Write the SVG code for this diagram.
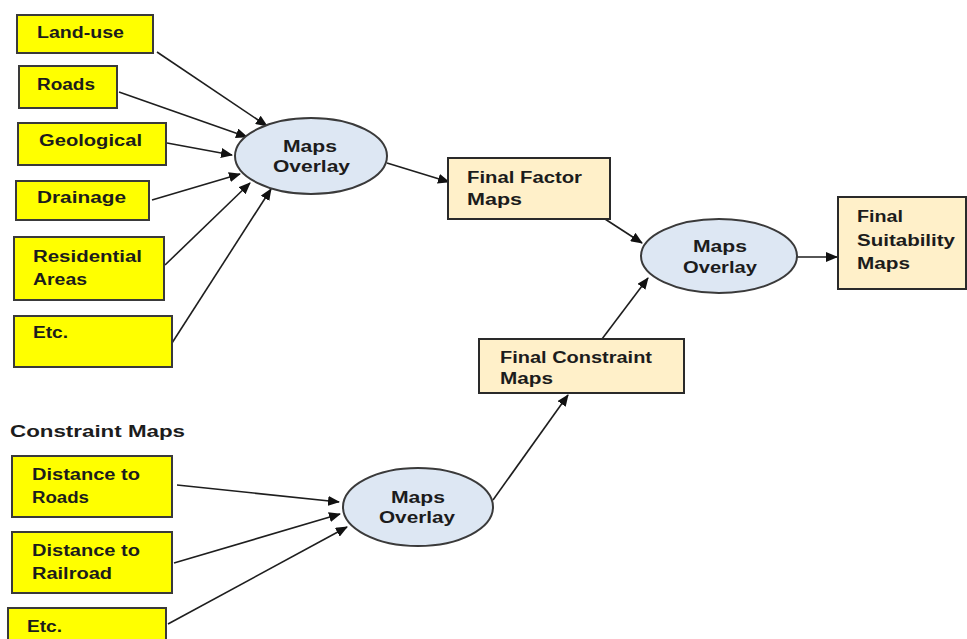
<svg xmlns="http://www.w3.org/2000/svg" width="967" height="639" viewBox="0 0 967 639">
<defs>
<marker id="ah" markerUnits="userSpaceOnUse" markerWidth="12" markerHeight="10" refX="11" refY="5" orient="auto">
<path d="M0,0 L12,5 L0,10 z" fill="#111"/>
</marker>
<style>
.y{fill:#ffff00;stroke:#3a3a3a;stroke-width:2}
.c{fill:#fff0c9;stroke:#2a2a2a;stroke-width:2}
.e{fill:#dde7f3;stroke:#3a3a3a;stroke-width:2}
.t{font-family:"Liberation Sans",Arial,sans-serif;font-weight:bold;font-size:16px;fill:#1c1c1c}
.l{stroke:#1e1e1e;stroke-width:1.6;fill:none;marker-end:url(#ah)}
</style>
</defs>
<rect width="967" height="639" fill="#ffffff"/>

<g id="connectors">
<line class="l" x1="157" y1="52" x2="267" y2="126"/>
<line class="l" x1="119" y1="92" x2="247" y2="137"/>
<line class="l" x1="167" y1="143" x2="232" y2="155"/>
<line class="l" x1="152" y1="200" x2="240" y2="174"/>
<line class="l" x1="165" y1="265" x2="250" y2="183"/>
<line class="l" x1="172" y1="343" x2="271" y2="189"/>
<line class="l" x1="387" y1="163" x2="449" y2="182"/>
<line class="l" x1="605" y1="219" x2="642" y2="243"/>
<line class="l" x1="797" y1="257" x2="837" y2="257"/>
<line class="l" x1="602" y1="339" x2="648" y2="278"/>
<line class="l" x1="493" y1="500" x2="568" y2="395"/>
<line class="l" x1="177" y1="485" x2="339" y2="502"/>
<line class="l" x1="174" y1="563" x2="340" y2="514"/>
<line class="l" x1="168" y1="624" x2="347" y2="527"/>
</g>

<g id="landuse"><rect class="y" x="17" y="15" width="136" height="38"/><text class="t" x="37" y="38" textLength="87" lengthAdjust="spacingAndGlyphs">Land-use</text></g>
<g id="roads"><rect class="y" x="19" y="66" width="98" height="42"/><text class="t" x="37" y="90" textLength="58" lengthAdjust="spacingAndGlyphs">Roads</text></g>
<g id="geological"><rect class="y" x="18" y="123" width="148" height="42"/><text class="t" x="39" y="146" textLength="103" lengthAdjust="spacingAndGlyphs">Geological</text></g>
<g id="drainage"><rect class="y" x="16" y="181" width="133" height="39"/><text class="t" x="37" y="203" textLength="89" lengthAdjust="spacingAndGlyphs">Drainage</text></g>
<g id="residential"><rect class="y" x="14" y="237" width="150" height="63"/><text class="t" x="33" y="262" textLength="109" lengthAdjust="spacingAndGlyphs">Residential</text><text class="t" x="33" y="285" textLength="54" lengthAdjust="spacingAndGlyphs">Areas</text></g>
<g id="etc1"><rect class="y" x="14" y="316" width="158" height="51"/><text class="t" x="33" y="338" textLength="35" lengthAdjust="spacingAndGlyphs">Etc.</text></g>

<g id="overlay1"><ellipse class="e" cx="311" cy="156" rx="76" ry="38"/><text class="t" x="283" y="152" textLength="54" lengthAdjust="spacingAndGlyphs">Maps</text><text class="t" x="273" y="172" textLength="77" lengthAdjust="spacingAndGlyphs">Overlay</text></g>

<g id="finalfactor"><rect class="c" x="448" y="158" width="162" height="61"/><text class="t" x="467" y="183" textLength="115" lengthAdjust="spacingAndGlyphs">Final Factor</text><text class="t" x="467" y="205" textLength="55" lengthAdjust="spacingAndGlyphs">Maps</text></g>

<g id="overlay2"><ellipse class="e" cx="719" cy="256" rx="78" ry="37"/><text class="t" x="693" y="252" textLength="54" lengthAdjust="spacingAndGlyphs">Maps</text><text class="t" x="683" y="273" textLength="74" lengthAdjust="spacingAndGlyphs">Overlay</text></g>

<g id="finalsuitability"><rect class="c" x="838" y="197" width="128" height="92"/><text class="t" x="857" y="222" textLength="46" lengthAdjust="spacingAndGlyphs">Final</text><text class="t" x="857" y="246" textLength="98" lengthAdjust="spacingAndGlyphs">Suitability</text><text class="t" x="857" y="269" textLength="53" lengthAdjust="spacingAndGlyphs">Maps</text></g>

<g id="finalconstraint"><rect class="c" x="479" y="339" width="205" height="54"/><text class="t" x="500" y="363" textLength="152" lengthAdjust="spacingAndGlyphs">Final Constraint</text><text class="t" x="500" y="384" textLength="53" lengthAdjust="spacingAndGlyphs">Maps</text></g>

<g id="constraintlabel"><text class="t" x="10" y="437" textLength="175" lengthAdjust="spacingAndGlyphs">Constraint Maps</text></g>

<g id="distroads"><rect class="y" x="12" y="456" width="160" height="61"/><text class="t" x="32" y="480" textLength="108" lengthAdjust="spacingAndGlyphs">Distance to</text><text class="t" x="32" y="503" textLength="57" lengthAdjust="spacingAndGlyphs">Roads</text></g>
<g id="distrailroad"><rect class="y" x="12" y="532" width="160" height="61"/><text class="t" x="32" y="556" textLength="108" lengthAdjust="spacingAndGlyphs">Distance to</text><text class="t" x="32" y="579" textLength="80" lengthAdjust="spacingAndGlyphs">Railroad</text></g>
<g id="etc2"><rect class="y" x="8" y="608" width="158" height="40"/><text class="t" x="27" y="632" textLength="35" lengthAdjust="spacingAndGlyphs">Etc.</text></g>

<g id="overlay3"><ellipse class="e" cx="418" cy="507" rx="75" ry="39"/><text class="t" x="391" y="503" textLength="54" lengthAdjust="spacingAndGlyphs">Maps</text><text class="t" x="379" y="523" textLength="76" lengthAdjust="spacingAndGlyphs">Overlay</text></g>
</svg>
